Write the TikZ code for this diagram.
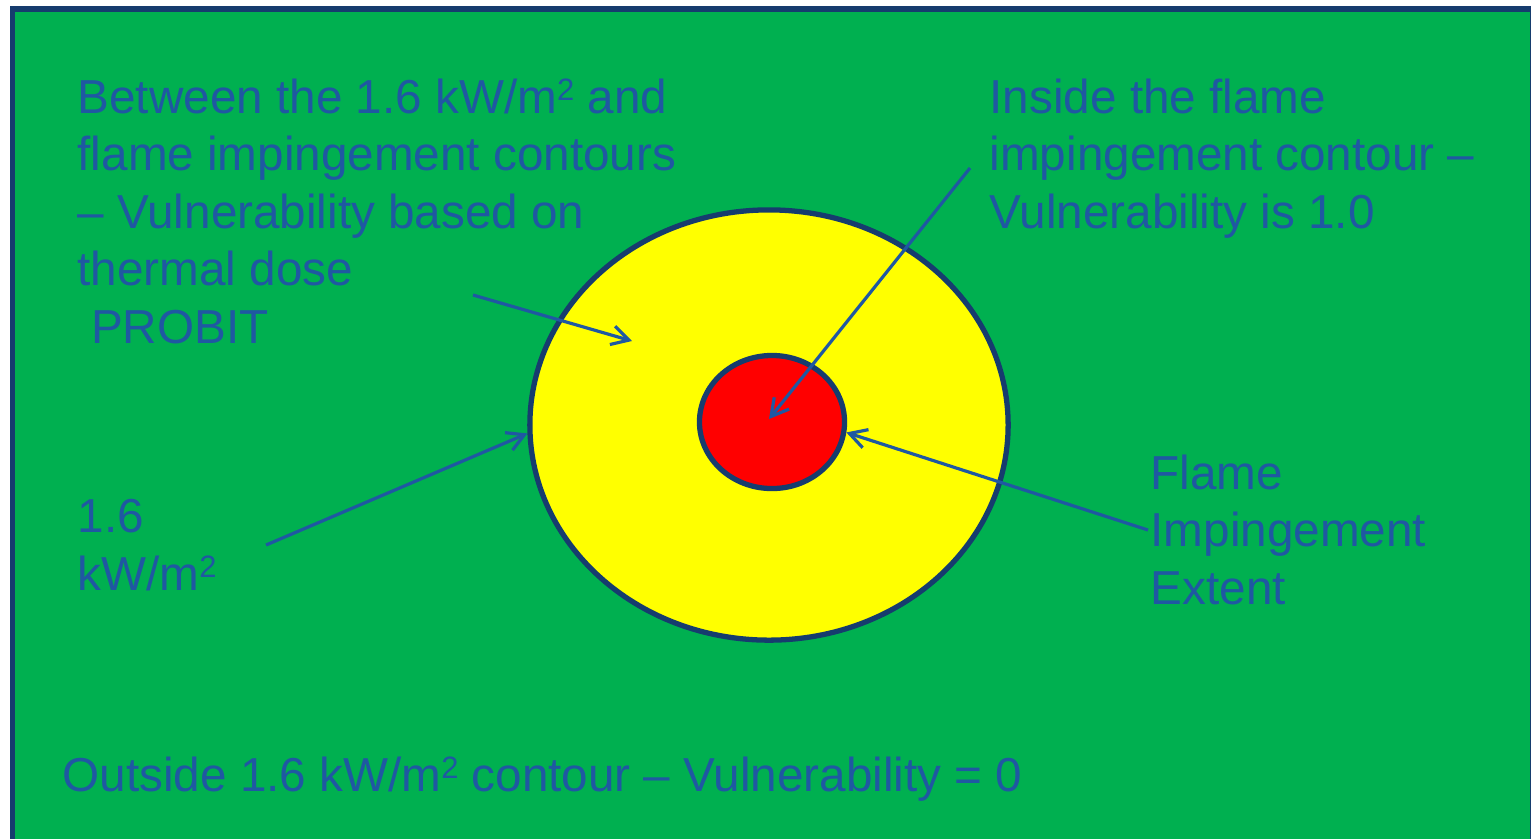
\documentclass[tikz,border=0pt]{standalone}
\usepackage{fontspec}
\setmainfont{Liberation Sans}
\usetikzlibrary{arrows.meta,shapes.geometric}

\definecolor{zonegreen}{RGB}{0,176,80}
\definecolor{zoneyellow}{RGB}{255,255,0}
\definecolor{zonered}{RGB}{255,0,0}
\definecolor{labelblue}{RGB}{31,88,162}
\definecolor{edgeblue}{RGB}{22,60,110}

% kW/m^2 met kleine, lage exponent
\newcommand{\kwsqm}{kW/m\raisebox{0.27em}{\fontsize{8.8pt}{8.8pt}\selectfont 2}}

\begin{document}
\begin{tikzpicture}[x=0.01cm, y=-0.01cm,
    >={Straight Barb[length=1.7mm,width=1.9mm]},
    label/.style={anchor=base west, inner sep=0pt, align=left, text=labelblue,
      font=\fontsize{13.55pt}{16.35pt}\selectfont},
    pointer/.style={->, draw=labelblue, line width=0.9pt},
    zone/.style={ellipse, draw=edgeblue, line width=1.5pt, inner sep=0pt}]

  \useasboundingbox (0,0) rectangle (1531,838);
  \clip (0,0) rectangle (1531,838);

  % Achtergrond met kader
  \fill[white] (0,0) rectangle (1531,838);
  \draw[edgeblue, fill=zonegreen, line width=1.6pt] (12.5,9) rectangle (1533,850);

  % Contouren
  \node[zone, fill=zoneyellow, minimum width=4.78cm, minimum height=4.30cm] (heat) at (769,425) {};
  \node[zone, fill=zonered, minimum width=1.45cm, minimum height=1.33cm] (flame) at (772,422) {};

  % Teksten (basislijn van de laatste regel)
  \node[label] (between) at (77,343)
    {Between the 1.6 \kwsqm{} and\\flame impingement contours\\-- Vulnerability based on\\thermal dose\\\hspace*{0.28em}PROBIT};
  \node[label] (inside) at (989,228)
    {Inside the flame\\impingement contour --\\Vulnerability is 1.0};
  \node[label] (limit) at (77,590) {1.6\\\kwsqm};
  \node[label] (extent) at (1150,604) {Flame\\Impingement\\Extent};
  \node[label] (outside) at (62,791)
    {Outside 1.6 \kwsqm{} contour -- Vulnerability = 0};

  % Pijlen
  \coordinate (p1) at (473,295);
  \coordinate (t1) at (632,341);
  \coordinate (p2) at (970,168);
  \coordinate (t2) at (769,419);
  \coordinate (p3) at (266,545);
  \coordinate (p4) at (1148,530);

  \draw[pointer] (p1) -- (t1);
  \draw[pointer] (p2) -- (t2);
  \draw[pointer] (p3) -- (heat.182);
  \draw[pointer] (p4) -- (flame.-8);

\end{tikzpicture}
\end{document}
